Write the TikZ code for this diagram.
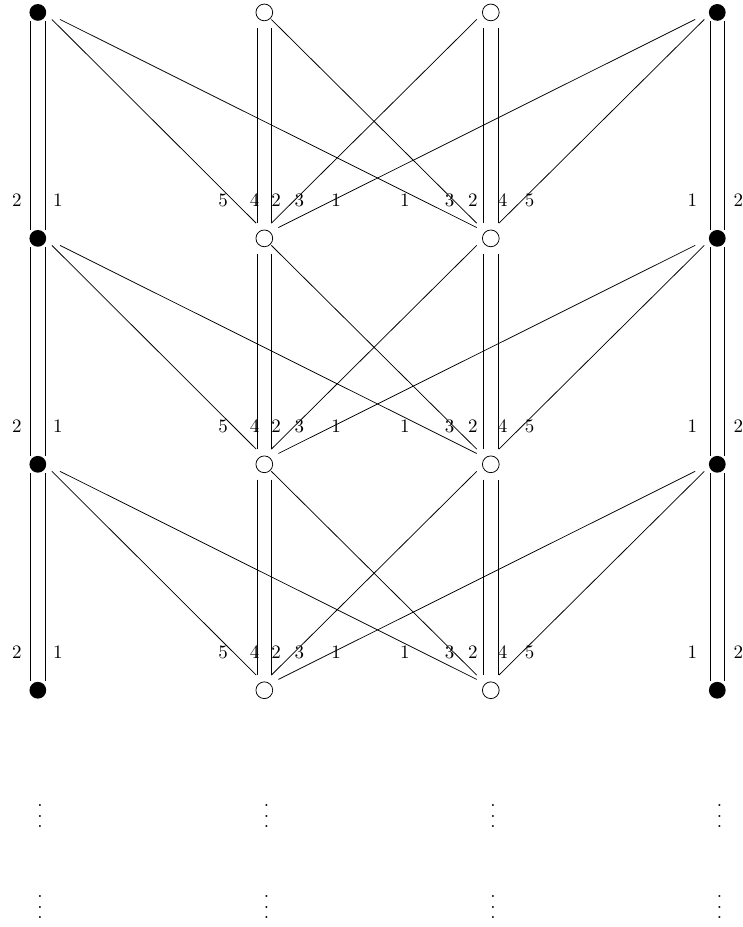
\documentclass[tikz,border=0pt]{standalone}
\usetikzlibrary{calc}
\newcommand{\tallvdots}{\vbox{\baselineskip=5.5pt\lineskiplimit=0pt\hbox{.}\hbox{.}\hbox{.}}}
\begin{document}
\begin{tikzpicture}[x=1cm,y=1cm,
  fullvtx/.style={circle,fill=black,inner sep=0pt,minimum size=0.31cm},
  openvtx/.style={circle,draw,fill=white,inner sep=0pt,minimum size=0.31cm},
  cut/.style={shorten <=0.12cm,shorten >=0.12cm},
  num/.style={inner sep=0pt}]
  \useasboundingbox (0,0) rectangle (13.73,17.15);
  \foreach \r in {0,...,3}{
    \node[fullvtx] (a\r) at (0.70,16.92-4.18*\r) {};
    \node[openvtx] (b\r) at (4.89,16.92-4.18*\r) {};
    \node[openvtx] (c\r) at (9.08,16.92-4.18*\r) {};
    \node[fullvtx] (d\r) at (13.27,16.92-4.18*\r) {};
  }
  \foreach \r/\s in {0/1,1/2,2/3}{
    \foreach \o in {-0.137,0.137}{
      \draw ([xshift=\o cm]a\r.south) -- ([xshift=\o cm]a\s.north);
      \draw ([xshift=\o cm]d\r.south) -- ([xshift=\o cm]d\s.north);
      \draw[cut] ([xshift=\o cm]b\r.south) -- ([xshift=\o cm]b\s.north);
      \draw[cut] ([xshift=\o cm]c\r.south) -- ([xshift=\o cm]c\s.north);
    }
    \draw ($(a\r)+(0.26,-0.13)$) -- ($(b\s)+(-0.15,0.28)$);
    \draw ($(a\r)+(0.41,-0.13)$) -- ($(c\s)+(-0.26,0.20)$);
    \draw ($(b\r)+(0.13,-0.13)$) -- ($(c\s)+(-0.26,0.28)$);
    \draw ($(c\r)+(-0.26,-0.13)$) -- ($(b\s)+(0.13,0.28)$);
    \draw ($(d\r)+(-0.24,-0.13)$) -- ($(c\s)+(0.15,0.28)$);
    \draw ($(d\r)+(-0.41,-0.13)$) -- ($(b\s)+(0.26,0.20)$);
    \foreach \dx/\t in {-0.39/2,0.37/1}
      \node[num] (a\s-\t) at ($(a\s)+(\dx,0.70)$) {\t};
    \foreach \dx/\t in {-0.76/5,-0.18/4,0.22/2,0.65/3,1.33/1}
      \node[num] (b\s-\t) at ($(b\s)+(\dx,0.70)$) {\t};
    \foreach \dx/\t in {-1.59/1,-0.76/3,-0.33/2,0.22/4,0.72/5}
      \node[num] (c\s-\t) at ($(c\s)+(\dx,0.70)$) {\t};
    \foreach \dx/\t in {-0.46/1,0.39/2}
      \node[num] (d\s-\t) at ($(d\s)+(\dx,0.70)$) {\t};
  }
  \foreach \x/\n in {0.74/a,4.93/b,9.12/c,13.31/d}{
    \node[num] (\n4) at (\x,2.05) {\tallvdots};
    \node[num] (\n5) at (\x,0.37) {\tallvdots};
  }
\end{tikzpicture}
\end{document}
